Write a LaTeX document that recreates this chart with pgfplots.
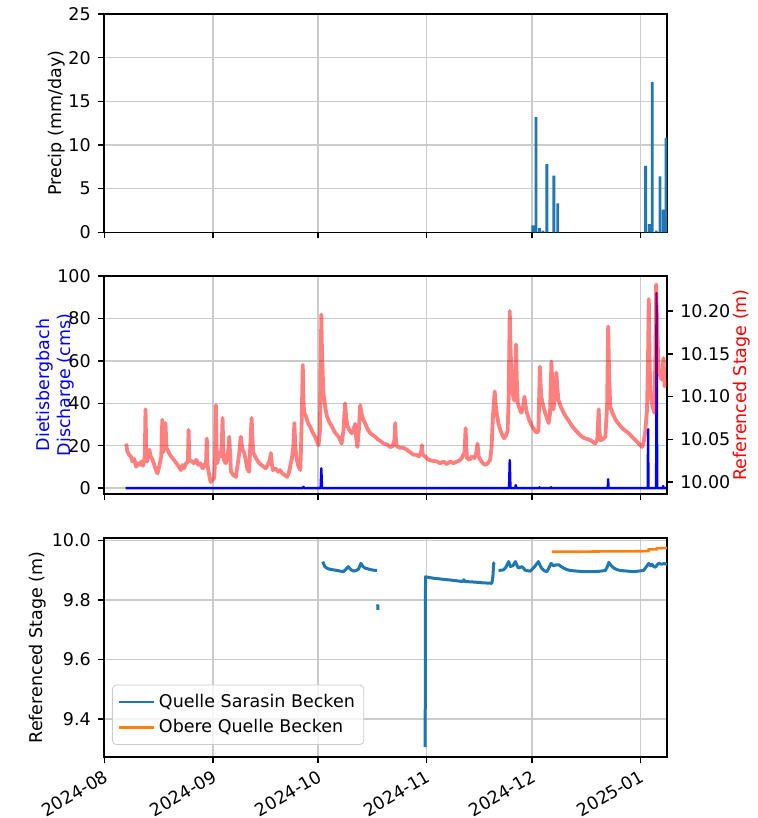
\documentclass[border=0pt]{standalone}
\usepackage{fontspec}
\setmainfont{DejaVu Sans}
\usepackage{pgfplots}
\pgfplotsset{compat=1.18}
\definecolor{c0}{HTML}{1F77B4}
\definecolor{c1}{HTML}{FF7F0E}
\definecolor{gridc}{HTML}{CBCBCB}

\pgfplotsset{
  base/.style={
    scale only axis, width=281.5pt, height=109pt,
    xmin=-0.15, xmax=160.6,
    xtick={0,31,61,92,122,153},
    xtick pos=lower, ytick pos=left, tick align=outside,
    major tick length=3.1pt,
    tick style={black, line width=0.7pt},
    axis line style={line width=0.7pt},
    grid=major, major grid style={gridc, line width=0.7pt},
    tick label style={font=\fontsize{8.75}{10}\selectfont},
    label style={font=\fontsize{8.75}{10.5}\selectfont},
    /pgf/number format/assume math mode=true,
  }
}

\begin{document}
\begin{tikzpicture}
\useasboundingbox (0,0) rectangle (379pt,-409pt);

% precipitation
\begin{axis}[base, at={(52pt,-116.15pt)}, anchor=south west, height=109.15pt,
    ymin=0, ymax=25, ytick={0,5,...,25}, xticklabels={},
    ylabel={Precip (mm/day)},
    ylabel style={at={(axis description cs:-0.0835,0.5)}, anchor=center}]
\addplot[ybar, bar width=0.8, fill=c0, draw=none] coordinates {
  (122.3,0.8) (123.2,13.2) (124.2,0.5) (125.2,0.2) (126.3,7.8)
  (128.3,6.5) (129.4,3.3)
  (154.5,7.6) (155.5,0.95) (156.4,17.2) (157.5,0.2) (158.6,6.4)
  (159.5,2.6) (160.3,10.8)
};
\end{axis}

% discharge
\begin{axis}[base, at={(52pt,-247pt)}, anchor=south west,
    ymin=-2.8, ymax=100, ytick={0,20,...,100}, xticklabels={},
    ylabel={Dietisbergbach\\Discharge (cms)},
    ylabel style={at={(axis description cs:-0.086,0.5)}, anchor=center, align=center,
      text=blue}]
\addplot[blue, line width=1.2pt, line join=round] coordinates {
  (6.0,0) (56.6,0) (56.8,0.6) (57.0,0) (61.7,0) (61.9,9.3) (62.1,0)
  (115.5,0) (115.7,13.2) (115.9,0) (117.3,0) (117.4,1.4) (117.6,0)
  (124.1,0) (124.2,0.4) (124.3,0) (127.4,0) (127.5,0.4) (127.6,0)
  (143.7,0) (143.8,4.2) (143.9,0) (155.1,0) (155.2,27.8) (155.3,0)
  (157.5,0) (157.6,92.0) (157.8,0) (159.4,0) (159.5,1.0) (159.6,0) (160.6,0)
};
\end{axis}

% stage on the right
\begin{axis}[base, at={(52pt,-247pt)}, anchor=south west,
    axis x line=none, axis y line*=right, ytick pos=right, grid=none,
    ymin=9.986, ymax=10.241, ytick={10,10.05,10.1,10.15,10.2},
    yticklabel style={/pgf/number format/.cd, fixed, fixed zerofill, precision=2},
    ylabel={Referenced Stage (m)},
    ylabel style={at={(axis description cs:1.133,0.5)}, anchor=center, text=red}]
\addplot[draw=red, draw opacity=0.5, line width=1.9pt, line join=round] table {
6.2 10.045
6.5 10.036
7.0 10.032
7.5 10.030
8.0 10.024
8.5 10.027
9.0 10.018
9.5 10.022
10.0 10.020
10.5 10.024
11.0 10.019
11.5 10.030
11.7 10.085
11.9 10.040
12.2 10.024
12.8 10.038
13.2 10.030
13.7 10.026
14.2 10.020
14.7 10.014
15.1 10.010
15.6 10.018
16.2 10.030
16.5 10.073
16.8 10.035
17.1 10.050
17.4 10.069
17.7 10.040
18.4 10.034
19.0 10.030
19.8 10.026
20.5 10.022
21.2 10.018
21.8 10.014
22.3 10.020
22.7 10.016
23.3 10.022
23.8 10.024
24.0 10.061
24.2 10.026
25.0 10.024
25.5 10.022
26.2 10.026
26.8 10.020
27.4 10.022
28.0 10.016
28.4 10.018
29.0 10.024
29.2 10.051
29.4 10.020
29.8 10.010
30.3 10.000
30.8 10.003
31.3 10.004
31.6 10.030
31.8 10.090
32.0 10.040
32.2 10.022
32.7 10.034
33.2 10.030
33.5 10.045
33.7 10.075
33.9 10.040
34.1 10.026
34.6 10.022
35.1 10.028
35.4 10.040
35.6 10.053
35.9 10.030
36.1 10.012
36.8 10.008
37.5 10.006
38.0 10.020
38.5 10.035
38.9 10.053
39.3 10.040
39.9 10.034
40.3 10.026
40.8 10.015
41.3 10.012
41.7 10.050
42.0 10.075
42.3 10.045
42.5 10.034
43.0 10.030
43.5 10.026
44.2 10.022
44.8 10.020
45.4 10.018
46.0 10.016
46.6 10.020
47.2 10.026
47.5 10.034
47.8 10.020
48.1 10.014
48.8 10.016
49.5 10.012
50.1 10.014
50.8 10.010
51.5 10.008
52.1 10.006
52.6 10.010
53.0 10.018
53.5 10.028
53.9 10.041
54.2 10.069
54.5 10.040
54.9 10.026
55.4 10.018
55.9 10.014
56.1 10.040
56.3 10.073
56.6 10.137
56.8 10.095
57.0 10.081
57.4 10.078
57.8 10.073
58.2 10.068
58.7 10.065
59.4 10.058
60.1 10.053
60.6 10.048
61.1 10.043
61.5 10.060
61.9 10.196
62.1 10.150
62.5 10.104
63.0 10.088
63.5 10.077
64.2 10.070
64.9 10.065
65.8 10.058
66.8 10.053
67.2 10.050
67.7 10.045
68.2 10.060
68.7 10.092
69.0 10.075
69.4 10.065
70.0 10.060
70.6 10.057
71.1 10.062
71.6 10.068
71.9 10.050
72.2 10.041
72.6 10.060
73.0 10.090
73.4 10.080
73.8 10.074
74.4 10.069
75.1 10.062
75.9 10.057
76.6 10.055
77.3 10.053
78.0 10.050
78.8 10.048
79.7 10.045
80.6 10.044
81.6 10.041
82.3 10.042
82.8 10.050
83.0 10.069
83.2 10.050
83.4 10.042
84.4 10.040
85.3 10.040
86.3 10.038
87.2 10.035
88.2 10.032
89.0 10.032
89.8 10.030
90.4 10.035
90.6 10.043
90.8 10.032
91.5 10.030
92.5 10.026
93.5 10.025
94.9 10.024
95.8 10.022
96.8 10.024
97.7 10.021
98.7 10.024
99.6 10.022
100.6 10.024
101.3 10.025
102.0 10.028
102.8 10.035
103.1 10.063
103.3 10.040
103.5 10.028
104.2 10.026
104.9 10.030
105.6 10.028
106.2 10.035
106.5 10.045
106.8 10.030
107.3 10.026
108.0 10.022
108.7 10.020
109.4 10.022
110.1 10.026
110.5 10.040
110.9 10.077
111.4 10.106
111.7 10.090
112.1 10.077
112.5 10.068
113.0 10.061
113.6 10.055
114.1 10.051
114.6 10.054
115.1 10.060
115.4 10.100
115.7 10.200
115.9 10.160
116.3 10.112
116.7 10.100
117.0 10.095
117.3 10.130
117.5 10.161
117.7 10.120
118.0 10.092
118.5 10.086
119.0 10.081
119.5 10.088
119.9 10.100
120.2 10.090
120.6 10.081
121.3 10.072
122.1 10.065
122.6 10.062
123.0 10.059
123.5 10.058
123.9 10.060
124.1 10.100
124.3 10.135
124.5 10.115
124.7 10.100
125.2 10.090
125.8 10.081
126.3 10.075
126.8 10.069
127.2 10.080
127.6 10.141
127.9 10.110
128.2 10.085
128.6 10.100
129.0 10.128
129.3 10.110
129.6 10.096
130.3 10.088
131.1 10.081
131.8 10.076
132.5 10.072
133.4 10.066
134.4 10.061
135.3 10.057
136.3 10.053
137.2 10.051
138.2 10.050
139.1 10.048
140.1 10.045
140.7 10.050
141.1 10.085
141.3 10.060
141.6 10.049
142.3 10.050
143.0 10.053
143.5 10.090
143.8 10.182
144.1 10.120
144.4 10.088
145.1 10.080
145.9 10.073
146.8 10.068
147.8 10.063
148.7 10.060
149.7 10.057
150.6 10.053
151.6 10.049
152.5 10.045
153.5 10.041
154.0 10.048
154.4 10.060
154.9 10.085
155.2 10.150
155.4 10.214
155.6 10.150
155.8 10.108
156.2 10.095
156.5 10.088
157.0 10.081
157.3 10.150
157.5 10.231
157.8 10.180
158.2 10.131
158.6 10.125
159.0 10.120
159.3 10.130
159.6 10.145
159.9 10.112
160.2 10.115
160.6 10.120
};
\end{axis}

% basins
\begin{axis}[base, at={(52pt,-378.5pt)}, anchor=south west, height=109.5pt,
    ymin=9.273, ymax=10.008, ytick={9.4,9.6,9.8,10.0},
    yticklabel style={/pgf/number format/.cd, fixed, fixed zerofill, precision=1},
    xticklabels={2024-08,2024-09,2024-10,2024-11,2024-12,2025-01},
    xticklabel style={rotate=30, anchor=north east, inner sep=2pt},
    ylabel={Referenced Stage (m)},
    ylabel style={at={(axis description cs:-0.117,0.5)}, anchor=center},
    unbounded coords=jump,
    legend style={at={(axis description cs:0.0142,0.055)}, anchor=south west,
      draw=gridc, rounded corners=2pt, fill=white, fill opacity=0.8, text opacity=1,
      font=\fontsize{8.75}{10}\selectfont, row sep=0.5pt, inner sep=2.5pt,
      cells={anchor=west}},
    legend image code/.code={\draw[#1, line width=1.3pt] (0pt,0pt) -- (17.5pt,0pt);}]
\addplot[c0, line width=1.5pt, line join=round] table {
62.3 9.929
62.9 9.912
63.6 9.906
64.4 9.903
65.4 9.901
66.4 9.899
67.3 9.897
68.2 9.895
68.9 9.903
69.6 9.912
70.3 9.902
71.1 9.897
71.8 9.899
72.5 9.903
73.2 9.923
73.8 9.912
74.4 9.907
75.1 9.905
75.9 9.902
76.8 9.900
77.8 9.899
77.9 nan
78.0 9.785
78.05 9.767
78.1 nan
91.55 9.306
91.65 9.878
92.5 9.876
94.0 9.873
95.5 9.871
97.0 9.869
98.7 9.867
100.2 9.865
101.5 9.863
102.3 9.862
102.6 9.868
102.9 9.862
104.3 9.861
105.8 9.860
107.5 9.858
109.0 9.857
110.6 9.856
110.9 9.880
111.1 9.923
111.4 9.926
111.9 nan
112.5 9.899
113.2 9.900
113.9 9.901
114.6 9.910
115.4 9.929
115.9 9.912
116.6 9.915
117.3 9.929
117.8 9.915
118.2 9.907
118.7 9.910
119.2 9.912
120.1 9.900
120.9 9.898
121.6 9.897
122.8 9.912
123.9 9.929
124.4 9.915
124.9 9.905
125.6 9.898
126.3 9.895
127.0 9.910
127.5 9.923
128.2 9.915
128.9 9.918
129.7 9.918
130.4 9.912
131.1 9.907
132.0 9.902
133.0 9.899
134.9 9.897
136.8 9.895
138.9 9.895
141.0 9.896
143.0 9.899
143.5 9.910
144.0 9.926
144.7 9.915
145.4 9.907
146.3 9.902
147.3 9.899
149.2 9.897
151.1 9.895
152.5 9.897
153.9 9.899
154.6 9.910
155.4 9.923
155.9 9.915
156.3 9.920
156.8 9.912
157.3 9.910
157.8 9.918
158.2 9.923
159.0 9.920
159.7 9.922
160.6 9.920
};
\addlegendentry{Quelle Sarasin Becken}
\addplot[c1, line width=1.3pt] table {
127.8 9.962
135.0 9.962
142.0 9.963
148.5 9.963
155.3 9.964
155.4 9.970
157.6 9.970
157.7 9.974
160.6 9.974
};
\addlegendentry{Obere Quelle Becken}
\end{axis}
\end{tikzpicture}
\end{document}
